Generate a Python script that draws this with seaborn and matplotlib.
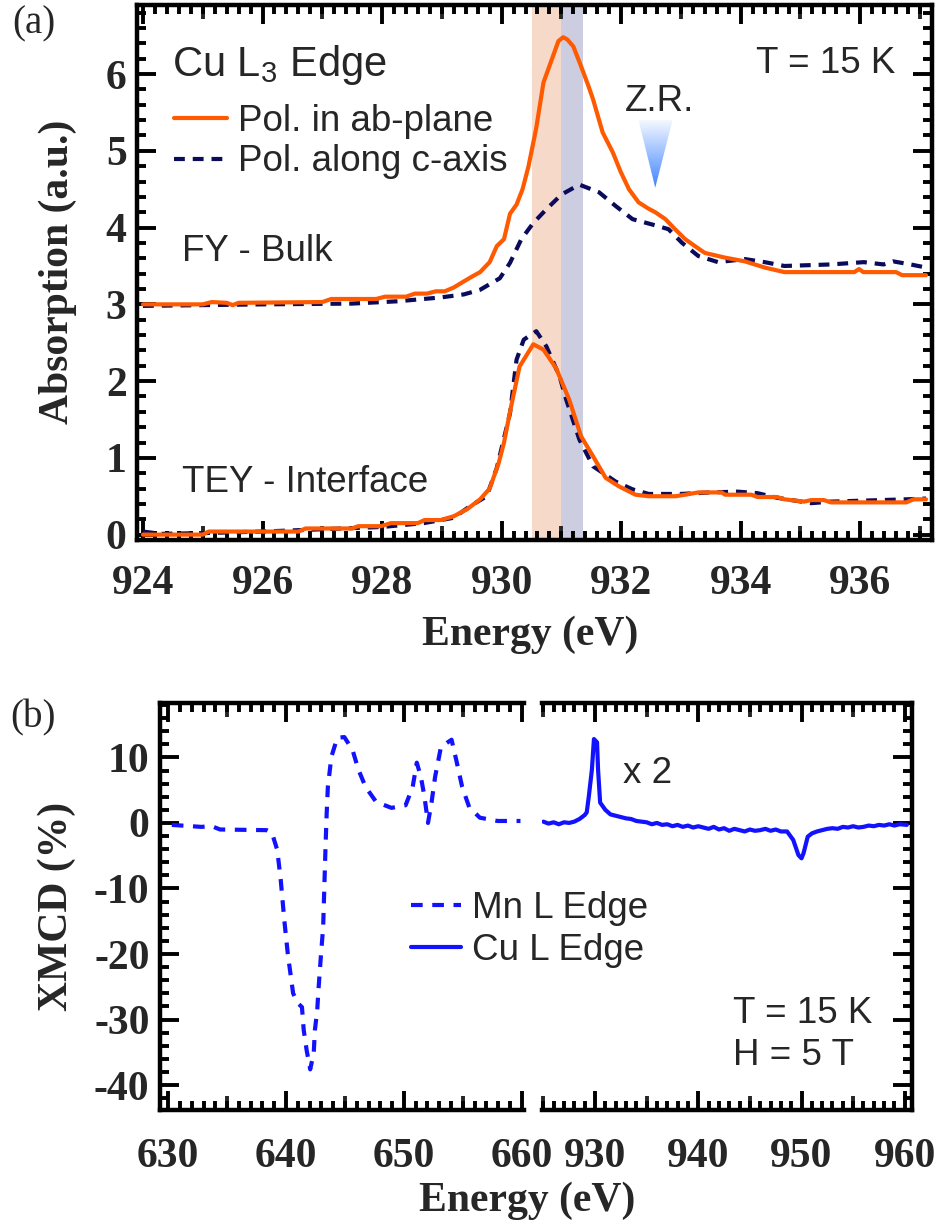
import numpy as np
import matplotlib
matplotlib.use("Agg")
import matplotlib.pyplot as plt
import seaborn as sns
from matplotlib.ticker import MultipleLocator
from matplotlib.patches import Polygon
from matplotlib.colors import LinearSegmentedColormap

# ---- panel (a): Cu L3 edge absorption, FY (bulk) ----
fy_ab_energy = [924.0, 925.0, 925.15, 925.4, 925.5, 925.6, 927.0, 927.15, 927.9, 928.05,
                928.4, 928.55, 928.75, 928.9, 929.05, 929.2, 929.37, 929.5, 929.64, 929.8,
                929.92, 930.04, 930.14, 930.25, 930.35, 930.45, 930.58, 930.7, 930.83, 930.95,
                931.03, 931.1, 931.2, 931.33, 931.45, 931.53, 931.69, 931.86, 931.99, 932.13,
                932.29, 932.45, 932.57, 932.74, 932.9, 933.07, 933.25, 933.4, 933.73, 934.07,
                934.4, 934.73, 935.9, 935.98, 936.05, 936.6, 936.7, 937.1]
fy_ab = [3.0, 3.0, 3.03, 3.02, 2.99, 3.02, 3.03, 3.07, 3.07, 3.1,
         3.1, 3.14, 3.14, 3.17, 3.17, 3.22, 3.3, 3.36, 3.42, 3.55,
         3.76, 3.85, 4.18, 4.3, 4.5, 4.8, 5.3, 5.89, 6.17, 6.43,
         6.48, 6.45, 6.36, 6.10, 5.85, 5.67, 5.24, 4.98, 4.73, 4.50,
         4.33, 4.25, 4.20, 4.11, 3.98, 3.85, 3.75, 3.67, 3.61, 3.56,
         3.48, 3.42, 3.42, 3.46, 3.42, 3.42, 3.38, 3.38]

fy_c_energy = [924.0, 926.0, 927.5, 928.26, 928.98, 929.37, 929.64, 929.97, 930.14, 930.33,
               930.53, 930.75, 931.0, 931.3, 931.63, 931.91, 932.19, 932.52, 932.79, 933.02,
               933.29, 933.62, 934.07, 934.4, 934.73, 935.51, 936.06, 936.39, 936.55, 936.84,
               937.1]
fy_c = [2.98, 3.0, 3.01, 3.04, 3.09, 3.13, 3.19, 3.34, 3.54, 3.85,
        4.06, 4.24, 4.43, 4.56, 4.46, 4.28, 4.11, 4.04, 3.98, 3.80,
        3.63, 3.55, 3.59, 3.55, 3.50, 3.52, 3.55, 3.52, 3.56, 3.52,
        3.48]

# ---- panel (a): TEY (interface) ----
tey_ab_energy = [924.0, 925.0, 925.1, 926.6, 926.72, 927.5, 927.6, 927.98, 928.15, 928.6,
                 928.71, 928.98, 929.2, 929.42, 929.64, 929.8, 929.95, 930.04, 930.14, 930.3,
                 930.53, 930.7, 930.91, 931.13, 931.33, 931.53, 931.74, 931.96, 932.24, 932.46,
                 932.91, 933.07, 933.29, 933.68, 933.74, 934.18, 934.28, 934.61, 934.73, 935.06,
                 935.18, 935.39, 935.51, 936.77, 936.89, 937.1]
tey_ab = [0.0, 0.0, 0.04, 0.04, 0.08, 0.08, 0.11, 0.11, 0.15, 0.15,
          0.19, 0.19, 0.24, 0.33, 0.46, 0.6, 0.93, 1.2, 1.6, 2.19,
          2.48, 2.41, 2.17, 1.76, 1.28, 1.02, 0.74, 0.63, 0.52, 0.50,
          0.50, 0.52, 0.55, 0.55, 0.52, 0.52, 0.49, 0.49, 0.46, 0.43,
          0.45, 0.45, 0.42, 0.42, 0.46, 0.46]

tey_c_energy = [924.0, 924.3, 925.0, 926.0, 927.0, 928.0, 928.7, 929.2, 929.47, 929.75,
                929.92, 930.14, 930.25, 930.37, 930.58, 930.75, 930.97, 931.08, 931.3, 931.53,
                931.91, 932.19, 932.46, 933.0, 933.5, 933.95, 934.28, 934.61, 935.18, 935.51,
                936.77, 937.1]
tey_c = [0.04, 0.01, 0.02, 0.04, 0.07, 0.1, 0.15, 0.22, 0.37, 0.5,
         0.87, 1.58, 2.28, 2.54, 2.65, 2.45, 2.06, 1.76, 1.24, 0.89,
         0.69, 0.59, 0.53, 0.53, 0.55, 0.56, 0.54, 0.48, 0.41, 0.43,
         0.46, 0.47]

# ---- panel (b): XMCD ----
mn_energy = [630.3, 632.8, 633.7, 634.4, 638.35, 638.8, 639.25, 639.55, 639.85, 640.15,
             640.6, 641.0, 641.35, 641.5, 641.75, 642.05, 642.35, 642.45, 642.65, 642.75,
             642.95, 643.15, 643.25, 643.35, 643.45, 643.55, 643.85, 644.35, 644.95, 645.65,
             646.15, 646.75, 647.65, 648.95, 650.15, 650.75, 651.1, 651.45, 651.75, 652.05,
             652.35, 652.65, 653.15, 654.05, 654.45, 654.95, 655.55, 656.45, 657.95, 659.9]
mn_xmcd = [-0.3, -0.6, -0.5, -1.0, -1.1, -1.5, -4.1, -8.7, -14.8, -20.0,
           -26.0, -27.5, -28.1, -31.6, -34.7, -37.6, -35.1, -31.6, -28.5, -25.5,
           -20.5, -15.9, -9.8, -3.7, 1.5, 5.5, 10.1, 13.0, 13.1, 11.1,
           8.1, 5.5, 3.2, 2.3, 2.7, 5.5, 9.2, 7.0, 4.0, 0.0,
           3.1, 7.0, 11.6, 12.7, 9.6, 5.5, 2.4, 0.8, 0.3, 0.3]

cu_energy = [925.0, 925.5, 926.0, 926.5, 927.0, 927.5, 928.0, 928.5, 929.0, 929.2,
             929.4, 929.7, 929.9, 930.2, 930.3, 930.5, 931.0, 931.5, 932.0, 932.5,
             933.0, 933.5, 934.0, 934.5, 935.0, 935.5, 936.0, 936.5, 937.0, 937.5,
             938.0, 938.5, 939.0, 939.5, 940.0, 940.5, 941.0, 941.5, 942.0, 942.5,
             943.0, 943.5, 944.0, 944.5, 945.0, 945.5, 946.0, 946.5, 947.0, 947.5,
             948.0, 948.6, 949.2, 949.7, 950.0, 950.2, 950.6, 951.0, 951.5, 952.0,
             952.5, 953.0, 953.5, 954.0, 954.5, 955.0, 955.5, 956.0, 956.5, 957.0,
             957.5, 958.0, 958.5, 959.0, 959.5, 960.2]
cu_xmcd = [0.2, -0.1, 0.1, -0.2, 0.1, 0.0, 0.2, 0.6, 1.2, 1.6,
           4.0, 8.1, 12.8, 12.3, 8.1, 3.1, 2.0, 1.3, 1.1, 0.9,
           0.7, 0.6, 0.3, 0.2, 0.1, -0.2, 0.0, -0.3, -0.2, -0.5,
           -0.3, -0.6, -0.4, -0.7, -0.5, -0.7, -0.9, -0.6, -1.0, -0.8,
           -1.2, -0.9, -1.1, -1.3, -1.0, -1.2, -1.1, -0.9, -1.2, -1.0,
           -1.3, -1.3, -2.6, -4.9, -5.4, -4.6, -2.1, -1.6, -1.3, -1.1,
           -0.9, -0.8, -0.9, -0.6, -0.7, -0.5, -0.7, -0.6, -0.4, -0.5,
           -0.3, -0.4, -0.2, -0.4, -0.2, -0.3]

sns.set_style("ticks")
plt.rcParams["font.family"] = ["Liberation Sans", "DejaVu Sans"]
plt.rcParams["axes.unicode_minus"] = False

SERIF = "Liberation Serif"
ORANGE = "#ff5a00"
NAVY = "#0b0b5c"
BLUE = "#1212ff"
TXT = 26.5
TICKFS = 30
LW = 3.0


def style_axes(ax, sides, xmaj, xmid, xmin, ymaj, ymin, xpad):
    for s in ["left", "right", "top", "bottom"]:
        ax.spines[s].set_visible(s in sides)
        ax.spines[s].set_linewidth(3.2)
        ax.spines[s].set_color("black")
    ax.xaxis.set_major_locator(MultipleLocator(xmaj))
    ax.xaxis.set_minor_locator(MultipleLocator(xmin))
    ax.yaxis.set_major_locator(MultipleLocator(ymaj))
    ax.yaxis.set_minor_locator(MultipleLocator(ymin))
    ax.tick_params(which="both", direction="in", width=2.8, color="black",
                   top=True, bottom=True,
                   left="left" in sides, right="right" in sides,
                   labelleft="left" in sides, labelright=False,
                   labelsize=TICKFS, labelfontfamily=SERIF)
    ax.tick_params(which="major", length=14)
    ax.tick_params(which="minor", length=6.5)
    ax.tick_params(axis="x", which="major", pad=xpad)
    ax.tick_params(axis="y", which="major", pad=7.5)
    # medium ticks between the labelled ones
    for loc in ["bottom", "top"]:
        sec = ax.secondary_xaxis(loc)
        sec.set_xticks([t for t in np.arange(-2000, 2000, xmid) if t % xmaj != 0])
        sec.tick_params(direction="in", length=10, width=2.8, labelbottom=False, labeltop=False)
        sec.xaxis.set_minor_locator(MultipleLocator(10000))
        for s in sec.spines.values():
            s.set_visible(False)


fig = plt.figure(figsize=(9.42, 12.32), dpi=100)

# ---------------- panel (a) ----------------
ax1 = fig.add_axes([137 / 942, 1 - 540 / 1232, 795 / 942, 535 / 1232])
ax1.axvspan(930.5, 931.0, color="#f7d9c9", lw=0, zorder=0)
ax1.axvspan(931.0, 931.36, color="#cdcde1", lw=0, zorder=0)

sns.lineplot(x=fy_c_energy, y=fy_c, ax=ax1, color=NAVY, lw=LW, sort=False,
             estimator=None, linestyle=(0, (2.6, 1.9)))
sns.lineplot(x=tey_c_energy, y=tey_c, ax=ax1, color=NAVY, lw=LW, sort=False,
             estimator=None, linestyle=(0, (2.6, 1.9)))
sns.lineplot(x=fy_ab_energy, y=fy_ab, ax=ax1, color=ORANGE, lw=LW, sort=False,
             estimator=None)
sns.lineplot(x=tey_ab_energy, y=tey_ab, ax=ax1, color=ORANGE, lw=LW, sort=False,
             estimator=None)

# Z.R. gradient triangle
tri = Polygon([[932.29, 5.40], [932.86, 5.40], [932.57, 4.52]], closed=True,
              facecolor="none", edgecolor="none")
ax1.add_patch(tri)
zr_cmap = LinearSegmentedColormap.from_list("zr", ["#f4f8ff", "#3f83ff"])
grad = np.linspace(0, 1, 256).reshape(-1, 1)
im = ax1.imshow(grad, extent=[932.29, 932.86, 4.52, 5.40], origin="upper",
                cmap=zr_cmap, aspect="auto", zorder=3)
im.set_clip_path(tri)

ax1.set_xlim(923.9, 937.2)
ax1.set_ylim(-0.07, 6.9)
ax1.set_xlabel("")
ax1.set_ylabel("")
style_axes(ax1, ["left", "right", "top", "bottom"], 2, 1, 0.2, 1, 0.2, xpad=18)

ax1.legend(handles=[ax1.lines[2], ax1.lines[0]],
           labels=["Pol. in ab-plane", "Pol. along c-axis"],
           loc="upper left", bbox_to_anchor=(0.046, 0.815), frameon=False,
           fontsize=TXT, handlelength=1.45, handletextpad=0.3,
           labelspacing=0.15, borderpad=0, borderaxespad=0)

ax1.text(924.48, 5.97, "Cu L$\\mathregular{_3}$ Edge", fontsize=30, ha="left", va="baseline")
ax1.text(936.59, 6.02, "T = 15 K", fontsize=TXT, ha="right", va="baseline")
ax1.text(932.64, 5.52, "Z.R.", fontsize=TXT, ha="center", va="baseline")
ax1.text(924.66, 3.56, "FY - Bulk", fontsize=TXT, ha="left", va="baseline")
ax1.text(924.65, 0.56, "TEY - Interface", fontsize=TXT, ha="left", va="baseline")

fig.text(58 / 942, 1 - 272 / 1232, "Absorption (a.u.)", family=SERIF, weight="bold",
         fontsize=30, rotation=90, ha="center", va="center")
fig.text(530 / 942, 1 - 635 / 1232, "Energy (eV)", family=SERIF, weight="bold",
         fontsize=30, ha="center", va="center")
fig.text(12 / 942, 1 - 33 / 1232, "(a)", family=SERIF, fontsize=28, ha="left", va="baseline")

# ---------------- panel (b) ----------------
axL = fig.add_axes([160 / 942, 1 - 1110 / 1232, 364 / 942, 407 / 1232])
axR = fig.add_axes([542 / 942, 1 - 1110 / 1232, 370 / 942, 407 / 1232])
axR.patch.set_alpha(0)

sns.lineplot(x=mn_energy, y=mn_xmcd, ax=axL, color=BLUE, lw=LW, sort=False,
             estimator=None, linestyle=(0, (2.8, 2.3)))
sns.lineplot(x=cu_energy, y=cu_xmcd, ax=axR, color=BLUE, lw=LW, sort=False,
             estimator=None)

for a in (axL, axR):
    a.set_ylim(-43.8, 18.3)
    a.set_xlabel("")
    a.set_ylabel("")
axL.set_xlim(629.3, 660.2)
axR.set_xlim(924.87, 960.7)
style_axes(axL, ["left", "top", "bottom"], 10, 5, 1, 10, 2, xpad=20)
style_axes(axR, ["right", "top", "bottom"], 10, 5, 1, 10, 2, xpad=20)

fig.legend(handles=[axL.lines[0], axR.lines[0]], labels=["Mn L Edge", "Cu L Edge"],
           loc="upper left", bbox_to_anchor=(411 / 942, 1 - 891 / 1232), frameon=False,
           fontsize=TXT, handlelength=1.35, handletextpad=0.32, labelspacing=0.2,
           borderpad=0, borderaxespad=0)

axR.text(932.7, 6.1, "x 2", fontsize=TXT, ha="left", va="baseline")
axR.text(943.4, -30.5, "T = 15 K", fontsize=TXT, ha="left", va="baseline")
axR.text(943.4, -36.9, "H = 5 T", fontsize=TXT, ha="left", va="baseline")

fig.text(57 / 942, 1 - 906 / 1232, "XMCD (%)", family=SERIF, weight="bold",
         fontsize=30, rotation=90, ha="center", va="center")
fig.text(527 / 942, 1 - 1201 / 1232, "Energy (eV)", family=SERIF, weight="bold",
         fontsize=30, ha="center", va="center")
fig.text(10 / 942, 1 - 727 / 1232, "(b)", family=SERIF, fontsize=28, ha="left", va="baseline")

# bold tick labels (set after a first draw so every tick label exists)
fig.canvas.draw()
for a in (ax1, axL, axR):
    for lab in a.get_xticklabels() + a.get_yticklabels():
        lab.set_fontweight("bold")

fig.savefig("out.png", dpi=100)
